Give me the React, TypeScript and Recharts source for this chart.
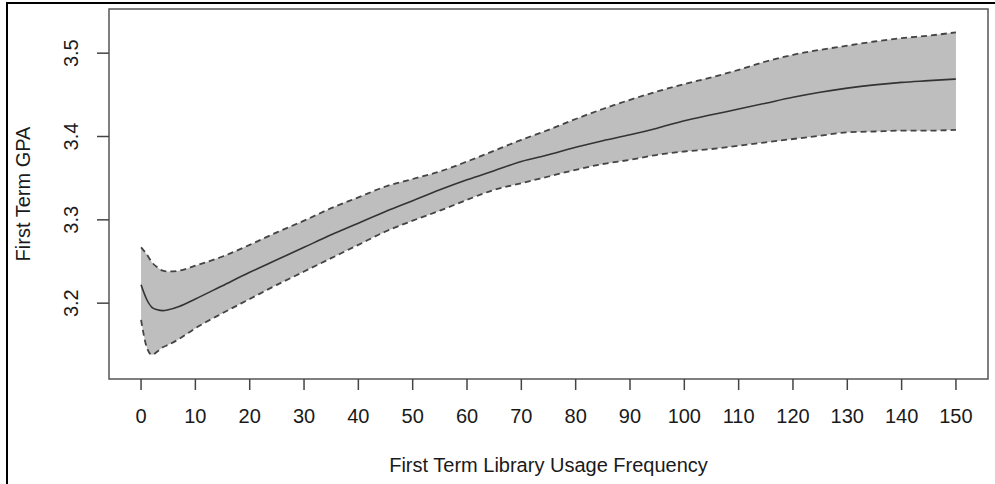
import React from "react";
import {
  ComposedChart,
  Area,
  Line,
  XAxis,
  YAxis,
  ReferenceArea,
} from "recharts";

// Library usage frequency (x) sample points
const usage = [
  0, 1, 2, 3, 4, 5, 7, 10, 15, 20, 25, 30, 35, 40, 45, 50, 55, 60, 65, 70, 75,
  80, 85, 90, 95, 100, 105, 110, 115, 120, 125, 130, 135, 140, 145, 150,
];

// Fitted first-term GPA
const fit = [
  3.222, 3.205, 3.195, 3.192, 3.191, 3.192, 3.196, 3.205, 3.221, 3.237, 3.252,
  3.267, 3.282, 3.296, 3.31, 3.323, 3.336, 3.348, 3.359, 3.37, 3.378, 3.387,
  3.395, 3.402, 3.41, 3.419, 3.426, 3.433, 3.44, 3.447, 3.453, 3.458, 3.462,
  3.465, 3.467, 3.469,
];

// Upper confidence bound
const upper = [
  3.267, 3.259, 3.249, 3.243, 3.239, 3.238, 3.239, 3.245, 3.256, 3.27, 3.285,
  3.299, 3.314, 3.327, 3.34, 3.349, 3.358, 3.37, 3.383, 3.396, 3.408, 3.421,
  3.433, 3.444, 3.454, 3.463, 3.471, 3.48, 3.49, 3.498, 3.504, 3.509, 3.514,
  3.518, 3.521, 3.525,
];

// Lower confidence bound
const lower = [
  3.18, 3.148, 3.138, 3.142, 3.147, 3.15, 3.157, 3.17, 3.188, 3.205, 3.222,
  3.238, 3.254, 3.27, 3.286, 3.299, 3.311, 3.324, 3.336, 3.344, 3.352, 3.36,
  3.367, 3.372, 3.378, 3.382, 3.385, 3.389, 3.393, 3.397, 3.401, 3.405, 3.406,
  3.407, 3.407, 3.408,
];

const xTicks = [0, 10, 20, 30, 40, 50, 60, 70, 80, 90, 100, 110, 120, 130, 140, 150];
const yTicks = [3.2, 3.3, 3.4, 3.5];

const X_MIN = -5.9;
const X_MAX = 155.9;
const Y_MIN = 3.109;
const Y_MAX = 3.553;

const data = usage.map((u, i) => ({
  x: u,
  fit: fit[i],
  upper: upper[i],
  lower: lower[i],
  band: [lower[i], upper[i]],
}));

const FONT = "'Liberation Sans', Arial, sans-serif";
const TEXT = "#1a1a1a";

const YTick = (props: any) => {
  const { x, y, payload } = props;
  return (
    <text
      x={x}
      y={y}
      transform={`rotate(-90, ${x}, ${y})`}
      textAnchor="middle"
      fontSize={20}
      fontFamily={FONT}
      fill={TEXT}
    >
      {payload.value.toFixed(1)}
    </text>
  );
};

const XLabel = (props: any) => {
  const vb = props.viewBox;
  return (
    <text
      x={vb.x + vb.width / 2}
      y={vb.y + 93}
      textAnchor="middle"
      fontSize={20}
      fontFamily={FONT}
      fill={TEXT}
    >
      First Term Library Usage Frequency
    </text>
  );
};

const YLabel = (props: any) => {
  const vb = props.viewBox;
  const cx = vb.x + 30;
  const cy = vb.y + vb.height / 2;
  return (
    <text
      x={cx}
      y={cy}
      transform={`rotate(-90, ${cx}, ${cy})`}
      textAnchor="middle"
      fontSize={20}
      fontFamily={FONT}
      fill={TEXT}
    >
      First Term GPA
    </text>
  );
};

export default function App() {
  return (
    <div
      style={{
        position: "absolute",
        left: 0,
        top: 0,
        width: 995,
        height: 484,
        background: "#fff",
        fontFamily: FONT,
      }}
    >
      <div
        style={{
          position: "absolute",
          left: 6,
          top: 2,
          width: 989,
          height: 2,
          background: "#000",
        }}
      />
      <div
        style={{
          position: "absolute",
          left: 6,
          top: 2,
          width: 2,
          height: 482,
          background: "#000",
        }}
      />
      <div style={{ position: "absolute", left: 0, top: 0 }}>
        <ComposedChart
          width={995}
          height={484}
          data={data}
          margin={{ top: 9, right: 7, bottom: 0, left: 0 }}
        >
          <XAxis
            dataKey="x"
            type="number"
            domain={[X_MIN, X_MAX]}
            ticks={xTicks}
            allowDataOverflow
            axisLine={false}
            tickLine={{ stroke: "#444", strokeWidth: 1.5 }}
            tickSize={11}
            tickMargin={19}
            height={105}
            tick={{ fontSize: 20, fontFamily: FONT, fill: TEXT }}
            label={<XLabel />}
          />
          <YAxis
            type="number"
            domain={[Y_MIN, Y_MAX]}
            ticks={yTicks}
            allowDataOverflow
            axisLine={false}
            tickLine={{ stroke: "#444", strokeWidth: 1.5 }}
            tickSize={12}
            tickMargin={19}
            width={109}
            tick={<YTick />}
            label={<YLabel />}
          />
          <Area
            dataKey="band"
            type="monotone"
            fill="#bebebe"
            fillOpacity={1}
            stroke="none"
            isAnimationActive={false}
            dot={false}
            activeDot={false}
          />
          <Line
            dataKey="upper"
            type="monotone"
            stroke="#444"
            strokeWidth={1.8}
            strokeDasharray="6 4"
            dot={false}
            activeDot={false}
            isAnimationActive={false}
          />
          <Line
            dataKey="lower"
            type="monotone"
            stroke="#444"
            strokeWidth={1.8}
            strokeDasharray="6 4"
            dot={false}
            activeDot={false}
            isAnimationActive={false}
          />
          <Line
            dataKey="fit"
            type="monotone"
            stroke="#333"
            strokeWidth={1.6}
            dot={false}
            activeDot={false}
            isAnimationActive={false}
          />
          <ReferenceArea
            x1={X_MIN}
            x2={X_MAX}
            y1={Y_MIN}
            y2={Y_MAX}
            fill="none"
            stroke="#555"
            strokeWidth={1.5}
            ifOverflow="visible"
          />
        </ComposedChart>
      </div>
    </div>
  );
}
